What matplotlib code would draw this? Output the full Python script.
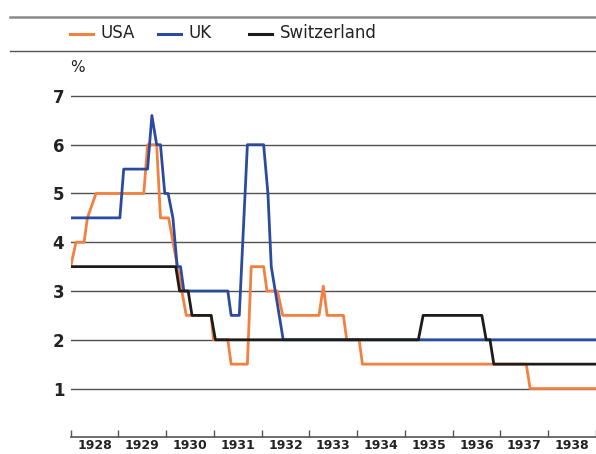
import matplotlib
matplotlib.use("Agg")
from matplotlib import pyplot as plt
from matplotlib.lines import Line2D

usa_years = [1928.0, 1928.11, 1928.28, 1928.35, 1928.53, 1929.53, 1929.61, 1929.80,
             1929.88, 1930.05, 1930.42, 1930.94, 1930.99, 1931.29, 1931.36, 1931.70,
             1931.78, 1932.04, 1932.11, 1932.33, 1932.44, 1933.20, 1933.29, 1933.37,
             1933.71, 1933.78, 1934.04, 1934.11, 1937.54, 1937.62, 1939.0]
usa_rate = [3.5, 4.0, 4.0, 4.5, 5.0, 5.0, 6.0, 6.0,
            4.5, 4.5, 2.5, 2.5, 2.0, 2.0, 1.5, 1.5,
            3.5, 3.5, 3.0, 3.0, 2.5, 2.5, 3.1, 2.5,
            2.5, 2.0, 2.0, 1.5, 1.5, 1.0, 1.0]

uk_years = [1928.0, 1929.03, 1929.11, 1929.61, 1929.70, 1929.80, 1929.88, 1929.97,
            1930.04, 1930.14, 1930.23, 1930.30, 1930.37, 1931.29, 1931.36, 1931.53,
            1931.70, 1932.04, 1932.13, 1932.20, 1932.45, 1939.0]
uk_rate = [4.5, 4.5, 5.5, 5.5, 6.6, 6.0, 6.0, 5.0,
           5.0, 4.5, 3.5, 3.5, 3.0, 3.0, 2.5, 2.5,
           6.0, 6.0, 5.0, 3.5, 2.0, 2.0]

ch_years = [1928.0, 1930.20, 1930.28, 1930.46, 1930.54, 1930.94, 1931.03, 1935.28,
            1935.38, 1936.61, 1936.70, 1936.78, 1936.86, 1939.0]
ch_rate = [3.5, 3.5, 3.0, 3.0, 2.5, 2.5, 2.0, 2.0,
           2.5, 2.5, 2.0, 2.0, 1.5, 1.5]

year_labels = [str(y) for y in range(1928, 1939)]
y_ticks = [1, 2, 3, 4, 5, 6, 7]

names = ["USA", "UK", "Switzerland"]
colors = ["#F47F3F", "#2A4B9F", "#1C1C1C"]

W, H = 596, 454
fig = plt.figure(figsize=(W / 100, H / 100), dpi=100)
ax = fig.add_axes([70.7 / W, (H - 437.3) / H, 525.3 / W, (437.3 - 66.7) / H])

series = [(usa_years, usa_rate), (uk_years, uk_rate), (ch_years, ch_rate)]
for i, (xs, ys) in enumerate(series):
    ax.plot(xs, ys, color=colors[i], lw=2.0, solid_capstyle="butt", zorder=3 + i)

ax.set_xlim(1928, 1939)
ax.set_ylim(0, 7.6)

# y axis: gridlines only, bold numbers
ax.set_yticks(y_ticks)
ax.set_yticklabels([str(v) for v in y_ticks], fontsize=12, fontweight="bold", color="#222222")
ax.tick_params(axis="y", length=0, pad=4.6)
ax.grid(axis="y", color="#505050", lw=1.0)
ax.set_axisbelow(True)

# x axis: ticks at year boundaries, labels in the middle of each year
ax.set_xticks(range(1928, 1940))
ax.set_xticks([y + 0.5 for y in range(1928, 1939)], minor=True)
ax.set_xticklabels(year_labels, minor=True, fontsize=9, fontweight="bold", color="#222222")
ax.tick_params(axis="x", which="major", direction="in", length=5, width=1.0,
               color="#555555", labelbottom=False)
ax.tick_params(axis="x", which="minor", length=0, pad=1.0)

for s in ["top", "right", "left"]:
    ax.spines[s].set_visible(False)
ax.spines["bottom"].set_color("#555555")
ax.spines["bottom"].set_linewidth(1.2)

# header rules and legend
fig.add_artist(Line2D([9.5 / W, 1], [1 - 17 / H] * 2, color="#8a8a8a", lw=1.8))
fig.add_artist(Line2D([9.5 / W, 1], [1 - 50.6 / H] * 2, color="#555555", lw=1.0))
legend_x = [70, 158, 249]
for i, name in enumerate(names):
    x0 = legend_x[i]
    fig.add_artist(Line2D([x0 / W, (x0 + 23) / W], [1 - 33.5 / H] * 2, color=colors[i], lw=2.2))
    fig.text((x0 + 31) / W, 1 - 33.5 / H, name, fontsize=12, va="center", ha="left", color="#222222")

fig.text(70.5 / W, 1 - 68 / H, "%", fontsize=11, va="center", ha="left", color="#222222")

plt.savefig("out.png", dpi=100)
plt.close()
